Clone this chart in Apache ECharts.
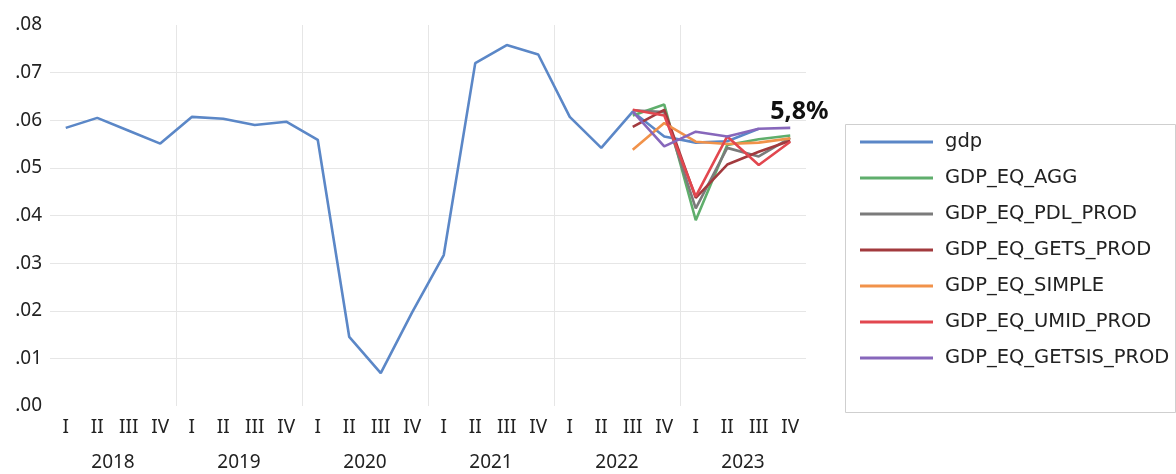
<!DOCTYPE html>
<html>
<head>
<meta charset="utf-8">
<script src="https://cdn.jsdelivr.net/npm/echarts@6/dist/echarts.min.js"></script>
<style>html,body{margin:0;padding:0;background:#fff}#c{width:1176px;height:474px}</style>
</head>
<body>
<div id="c"></div>
<script>
const years = ['2018','2019','2020','2021','2022','2023'];
const quarters = ['I','II','III','IV'];
const categories = [];
years.forEach(y => quarters.forEach(q => categories.push(y + ' ' + q)));

const gdp = [0.0584,0.0605,0.0578,0.0551, 0.0607,0.0603,0.0590,0.0597, 0.0559,0.0145,0.0069,0.0197, 0.0317,0.0720,0.0758,0.0738, 0.0607,0.0542,0.0618,0.0566, 0.0553,0.0556,0.0582,null];
const eqAgg    = [null,null,null,null, null,null,null,null, null,null,null,null, null,null,null,null, null,null,0.0610,0.0633, 0.0390,0.0548,0.0560,0.0568];
const eqPdl    = [null,null,null,null, null,null,null,null, null,null,null,null, null,null,null,null, null,null,0.0621,0.0617, 0.0415,0.0542,0.0524,0.0563];
const eqGets   = [null,null,null,null, null,null,null,null, null,null,null,null, null,null,null,null, null,null,0.0586,0.0622, 0.0437,0.0507,0.0534,0.0557];
const eqSimple = [null,null,null,null, null,null,null,null, null,null,null,null, null,null,null,null, null,null,0.0538,0.0594, 0.0555,0.0550,0.0553,0.0562];
const eqUmid   = [null,null,null,null, null,null,null,null, null,null,null,null, null,null,null,null, null,null,0.0622,0.0610, 0.0440,0.0566,0.0506,0.0555];
const eqGetsis = [null,null,null,null, null,null,null,null, null,null,null,null, null,null,null,null, null,null,0.0618,0.0545, 0.0576,0.0566,0.0582,0.0584];
const endLabelText = '5,8%';

const names = ['gdp','GDP_EQ_AGG','GDP_EQ_PDL_PROD','GDP_EQ_GETS_PROD','GDP_EQ_SIMPLE','GDP_EQ_UMID_PROD','GDP_EQ_GETSIS_PROD'];
const colors = ['#5b87c7','#5fae6c','#7b7b7b','#a23a3e','#f1924a','#e2474f','#8767bb'];
const dataSets = [gdp, eqAgg, eqPdl, eqGets, eqSimple, eqUmid, eqGetsis];

const FONT = 'Noto Sans';
const chart = echarts.init(document.getElementById('c'));

const series = names.map((n, i) => {
  const s = {
    name: n, type: 'line', data: dataSets[i], xAxisIndex: 0, yAxisIndex: 0,
    symbol: 'none', showSymbol: false, connectNulls: false,
    lineStyle: {width: 2.6, color: colors[i]}, itemStyle: {color: colors[i]},
    z: i === 0 ? 2 : 3 + i, animation: false
  };
  if (i === 6) {
    s.endLabel = {show: true, formatter: endLabelText, offset: [-28, -16],
      fontFamily: FONT, fontSize: 25, fontWeight: 'bold', color: '#111'};
  }
  return s;
});

const gridC = '#e6e6e6';
chart.setOption({
  animation: false,
  backgroundColor: '#fff',
  grid: {left: 50, right: 370, top: 25, bottom: 68},
  xAxis: [{
    type: 'category', data: categories, boundaryGap: true, position: 'bottom',
    axisLine: {show: false}, axisTick: {show: false},
    axisLabel: {interval: 0, margin: 12, formatter: v => v.split(' ')[1], fontFamily: FONT, fontSize: 19, color: '#222'},
    splitLine: {show: true, interval: (i) => i > 0 && i < 24 && i % 4 === 0,
      lineStyle: {color: [gridC, gridC, gridC, gridC, gridC, 'rgba(0,0,0,0)'], width: 1}}
  }, {
    type: 'category', data: years, boundaryGap: true, position: 'bottom', offset: 35,
    gridIndex: 0,
    axisLine: {show: false}, axisTick: {show: false}, splitLine: {show: false},
    axisLabel: {interval: 0, margin: 12, fontFamily: FONT, fontSize: 19, color: '#222'}
  }],
  yAxis: {
    type: 'value', min: 0, max: 0.08, interval: 0.01,
    axisLine: {show: false}, axisTick: {show: false},
    axisLabel: {margin: 8, formatter: v => v.toFixed(2).replace(/^0/, ''), fontFamily: FONT, fontSize: 19, color: '#222'},
    splitLine: {show: true, showMinLine: false, showMaxLine: false, lineStyle: {color: gridC, width: 1}}
  },
  legend: {
    show: true, orient: 'vertical', left: 855, top: 127,
    data: names, icon: 'rect', itemWidth: 73, itemHeight: 3, itemGap: 16,
    textStyle: {fontFamily: 'DejaVu Sans', fontSize: 19.5, color: '#222', lineHeight: 20, padding: [0, 0, 0, 7]}
  },
  graphic: [{
    type: 'rect', left: 843, top: 122, shape: {width: 330, height: 288},
    style: {fill: 'none', stroke: '#cfcfcf', lineWidth: 1}, z: -1
  }],
  series: series
});
</script>
</body>
</html>
